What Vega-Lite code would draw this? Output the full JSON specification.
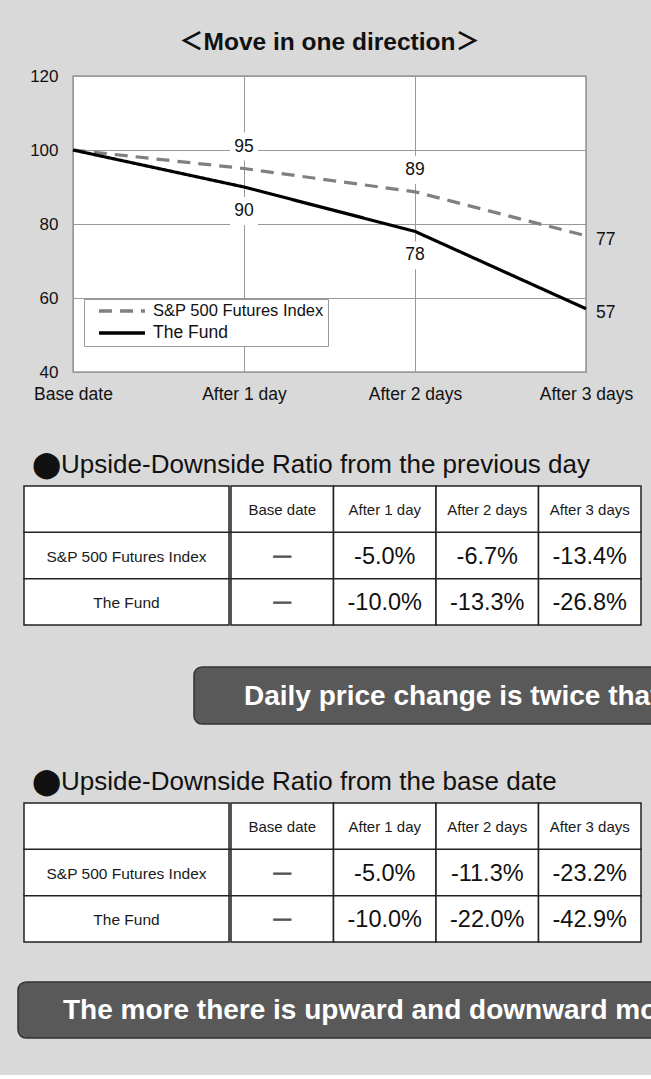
{
  "$schema": "https://vega.github.io/schema/vega-lite/v6.json",
  "background": "#d9d9d9",
  "padding": {"left": 17, "top": 28, "right": -7, "bottom": 36},
  "spacing": 38,
  "datasets": {
    "line": [
      {"day": "Base date", "series": "S&P 500 Futures Index", "index": 100},
      {"day": "After 1 day", "series": "S&P 500 Futures Index", "index": 95},
      {"day": "After 2 days", "series": "S&P 500 Futures Index", "index": 88.7},
      {"day": "After 3 days", "series": "S&P 500 Futures Index", "index": 76.8},
      {"day": "Base date", "series": "The Fund", "index": 100},
      {"day": "After 1 day", "series": "The Fund", "index": 90},
      {"day": "After 2 days", "series": "The Fund", "index": 78},
      {"day": "After 3 days", "series": "The Fund", "index": 57.1}
    ],
    "prev": [
      {"row": "S&P 500 Futures Index", "col": "Base date", "pct": null},
      {"row": "S&P 500 Futures Index", "col": "After 1 day", "pct": -0.05},
      {"row": "S&P 500 Futures Index", "col": "After 2 days", "pct": -0.067},
      {"row": "S&P 500 Futures Index", "col": "After 3 days", "pct": -0.134},
      {"row": "The Fund", "col": "Base date", "pct": null},
      {"row": "The Fund", "col": "After 1 day", "pct": -0.10},
      {"row": "The Fund", "col": "After 2 days", "pct": -0.133},
      {"row": "The Fund", "col": "After 3 days", "pct": -0.268}
    ],
    "base": [
      {"row": "S&P 500 Futures Index", "col": "Base date", "pct": null},
      {"row": "S&P 500 Futures Index", "col": "After 1 day", "pct": -0.05},
      {"row": "S&P 500 Futures Index", "col": "After 2 days", "pct": -0.113},
      {"row": "S&P 500 Futures Index", "col": "After 3 days", "pct": -0.232},
      {"row": "The Fund", "col": "Base date", "pct": null},
      {"row": "The Fund", "col": "After 1 day", "pct": -0.10},
      {"row": "The Fund", "col": "After 2 days", "pct": -0.22},
      {"row": "The Fund", "col": "After 3 days", "pct": -0.429}
    ],
    "banner1": [{"message": "Daily price change is twice that of the S&P 500 Futures Index"}],
    "banner2": [{"message": "The more there is upward and downward movement"}]
  },
  "vconcat": [
    {
      "spacing": 0,
      "hconcat": [
        {"width": 10, "height": 338, "data": {"values": []}, "mark": {"type": "point", "opacity": 0}},
        {
          "width": 513,
          "height": 296,
          "data": {"name": "line"},
          "view": {"stroke": "#999999", "strokeWidth": 1.5, "fill": "white"},
          "title": {"text": "＜Move in one direction＞", "fontSize": 24.5, "fontWeight": "bold", "font": "Liberation Sans, Noto Sans CJK JP", "color": "#111111", "offset": 12},
          "encoding": {
            "x": {
              "field": "day", "type": "ordinal",
              "sort": ["Base date", "After 1 day", "After 2 days", "After 3 days"],
              "scale": {"type": "point", "padding": 0},
              "axis": {"labelAngle": 0, "labelFontSize": 17.5, "labelPadding": 13, "labelColor": "#111111", "grid": true, "gridColor": "#999999", "gridWidth": 1, "domain": false, "ticks": false, "title": null}
            },
            "y": {
              "field": "index", "type": "quantitative",
              "scale": {"domain": [40, 120], "nice": false, "zero": false},
              "axis": {"values": [40, 60, 80, 100, 120], "labelFontSize": 17, "labelPadding": 15, "labelColor": "#111111", "grid": true, "gridColor": "#999999", "gridWidth": 1, "domain": false, "ticks": false, "title": null}
            }
          },
          "layer": [
            {
              "transform": [{"filter": "datum.series === 'S&P 500 Futures Index' && (datum.day === 'After 1 day' || datum.day === 'After 2 days')"}],
              "mark": {"type": "point", "shape": "square", "size": 784, "filled": true, "color": "white", "opacity": 1, "strokeWidth": 0, "yOffset": -22}
            },
            {
              "transform": [{"filter": "datum.series === 'The Fund' && (datum.day === 'After 1 day' || datum.day === 'After 2 days')"}],
              "mark": {"type": "point", "shape": "square", "size": 784, "filled": true, "color": "white", "opacity": 1, "strokeWidth": 0, "yOffset": 24}
            },
            {
              "mark": {"type": "line", "strokeWidth": 3.2, "strokeCap": "butt"},
              "encoding": {
                "color": {
                  "field": "series", "type": "nominal",
                  "scale": {"domain": ["S&P 500 Futures Index", "The Fund"], "range": ["#808080", "#000000"]},
                  "legend": {"orient": "none", "legendX": 66, "legendY": 223, "title": null, "symbolType": "stroke", "symbolSize": 2116, "symbolStrokeWidth": 3.5, "labelFontSize": 16.5, "labelColor": "#111111", "strokeColor": "#999999", "fillColor": "white", "padding": 4, "clipHeight": 16, "rowPadding": 4, "symbolOffset": 9, "labelOffset": 6, "labelLimit": 400,
                    "encode": {"labels": {"update": {"fontSize": {"signal": "datum.label === 'The Fund' ? 17.5 : 16.5"}}}}}
                },
                "strokeDash": {
                  "field": "series", "type": "nominal",
                  "scale": {"domain": ["S&P 500 Futures Index", "The Fund"], "range": [[13, 8], [1, 0]]},
                  "legend": {"orient": "none", "legendX": 66, "legendY": 223, "title": null, "symbolType": "stroke", "symbolSize": 2116, "symbolStrokeWidth": 3.5, "labelFontSize": 16.5, "labelColor": "#111111", "strokeColor": "#999999", "fillColor": "white", "padding": 4, "clipHeight": 16, "rowPadding": 4, "symbolOffset": 9, "labelOffset": 6, "labelLimit": 400,
                    "encode": {"labels": {"update": {"fontSize": {"signal": "datum.label === 'The Fund' ? 17.5 : 16.5"}}}}}
                }
              }
            },
            {
              "transform": [{"filter": "datum.series === 'S&P 500 Futures Index' && (datum.day === 'After 1 day' || datum.day === 'After 2 days')"}],
              "mark": {"type": "text", "fontSize": 17.5, "color": "#111111", "yOffset": -22},
              "encoding": {"text": {"field": "index", "type": "quantitative", "format": ".0f"}}
            },
            {
              "transform": [{"filter": "datum.series === 'The Fund' && (datum.day === 'After 1 day' || datum.day === 'After 2 days')"}],
              "mark": {"type": "text", "fontSize": 17.5, "color": "#111111", "yOffset": 24},
              "encoding": {"text": {"field": "index", "type": "quantitative", "format": ".0f"}}
            },
            {
              "transform": [{"filter": "datum.day === 'After 3 days'"}],
              "mark": {"type": "text", "fontSize": 17.5, "color": "#111111", "align": "left", "dx": 10, "yOffset": 4},
              "encoding": {"text": {"field": "index", "type": "quantitative", "format": ".0f"}}
            }
          ]
        }
      ]
    },
    {
      "title": {"text": "⬤Upside-Downside Ratio from the previous day", "anchor": "start", "fontSize": 26, "fontWeight": "normal", "font": "Liberation Sans, DejaVu Sans, Noto Sans CJK JP", "color": "#111111", "dx": 14, "offset": 7},
      "spacing": 0,
      "hconcat": [
        {"width": 5, "height": 142, "data": {"values": []}, "mark": {"type": "point", "opacity": 0}},
        {
          "width": 205, "height": 139,
          "data": {"name": "prev"},
          "transform": [{"filter": "datum.col === 'Base date'"}],
          "encoding": {
            "y": {"field": "row", "type": "nominal", "scale": {"domain": ["header", "S&P 500 Futures Index", "The Fund"], "paddingInner": 0, "paddingOuter": 0}, "axis": null}
          },
          "layer": [
            {"mark": {"type": "rect", "fill": "white", "stroke": "#222222", "strokeWidth": 1.5}},
            {"transform": [{"filter": "datum.row === 'The Fund'"}], "mark": {"type": "rect", "fill": "white", "stroke": "#222222", "strokeWidth": 1.5}, "encoding": {"y": {"datum": "header", "type": "nominal"}}},
            {"mark": {"type": "text", "fontSize": 15.5, "color": "#1a1a1a", "dy": 1}, "encoding": {"text": {"field": "row"}}}
          ]
        },
        {
          "width": 410, "height": 139,
          "data": {"name": "prev"},
          "encoding": {
            "x": {"field": "col", "type": "nominal", "scale": {"domain": ["Base date", "After 1 day", "After 2 days", "After 3 days"], "paddingInner": 0, "paddingOuter": 0}, "axis": null},
            "y": {"field": "row", "type": "nominal", "scale": {"domain": ["header", "S&P 500 Futures Index", "The Fund"], "paddingInner": 0, "paddingOuter": 0}, "axis": null}
          },
          "layer": [
            {"mark": {"type": "rect", "fill": "white", "stroke": "#222222", "strokeWidth": 1.5}},
            {"transform": [{"filter": "datum.row === 'The Fund'"}], "mark": {"type": "rect", "fill": "white", "stroke": "#222222", "strokeWidth": 1.5}, "encoding": {"y": {"datum": "header", "type": "nominal"}}},
            {"transform": [{"filter": "datum.row === 'The Fund'"}], "mark": {"type": "text", "fontSize": 15, "color": "#1a1a1a", "dy": 1}, "encoding": {"y": {"datum": "header", "type": "nominal"}, "text": {"field": "col"}}},
            {"transform": [{"filter": "isValid(datum.pct)"}], "mark": {"type": "text", "fontSize": 23.5, "color": "#111111", "dy": 1}, "encoding": {"text": {"field": "pct", "type": "quantitative", "format": ".1%"}}},
            {"transform": [{"filter": "!isValid(datum.pct)"}], "mark": {"type": "text", "fontSize": 17, "color": "#555555", "stroke": "#555555", "strokeWidth": 1.3, "text": "—"}}
          ]
        }
      ]
    },
    {
      "spacing": 0,
      "hconcat": [
        {"width": 175, "height": 64, "data": {"values": []}, "mark": {"type": "point", "opacity": 0}},
        {
          "width": 463, "height": 57,
          "data": {"name": "banner1"},
          "layer": [
            {"mark": {"type": "rect", "fill": "#595959", "stroke": "#333333", "strokeWidth": 1.5, "cornerRadiusTopLeft": 8, "cornerRadiusBottomLeft": 8}, "encoding": {}},
            {"mark": {"type": "text", "align": "left", "baseline": "middle", "dx": -181.5, "dy": 1, "fontSize": 28, "fontWeight": "bold", "color": "white", "clip": true}, "encoding": {"text": {"field": "message"}}}
          ]
        }
      ]
    },
    {
      "title": {"text": "⬤Upside-Downside Ratio from the base date", "anchor": "start", "fontSize": 26, "fontWeight": "normal", "font": "Liberation Sans, DejaVu Sans, Noto Sans CJK JP", "color": "#111111", "dx": 14, "offset": 7},
      "spacing": 0,
      "hconcat": [
        {"width": 5, "height": 138, "data": {"values": []}, "mark": {"type": "point", "opacity": 0}},
        {
          "width": 205, "height": 139,
          "data": {"name": "base"},
          "transform": [{"filter": "datum.col === 'Base date'"}],
          "encoding": {
            "y": {"field": "row", "type": "nominal", "scale": {"domain": ["header", "S&P 500 Futures Index", "The Fund"], "paddingInner": 0, "paddingOuter": 0}, "axis": null}
          },
          "layer": [
            {"mark": {"type": "rect", "fill": "white", "stroke": "#222222", "strokeWidth": 1.5}},
            {"transform": [{"filter": "datum.row === 'The Fund'"}], "mark": {"type": "rect", "fill": "white", "stroke": "#222222", "strokeWidth": 1.5}, "encoding": {"y": {"datum": "header", "type": "nominal"}}},
            {"mark": {"type": "text", "fontSize": 15.5, "color": "#1a1a1a", "dy": 1}, "encoding": {"text": {"field": "row"}}}
          ]
        },
        {
          "width": 410, "height": 139,
          "data": {"name": "base"},
          "encoding": {
            "x": {"field": "col", "type": "nominal", "scale": {"domain": ["Base date", "After 1 day", "After 2 days", "After 3 days"], "paddingInner": 0, "paddingOuter": 0}, "axis": null},
            "y": {"field": "row", "type": "nominal", "scale": {"domain": ["header", "S&P 500 Futures Index", "The Fund"], "paddingInner": 0, "paddingOuter": 0}, "axis": null}
          },
          "layer": [
            {"mark": {"type": "rect", "fill": "white", "stroke": "#222222", "strokeWidth": 1.5}},
            {"transform": [{"filter": "datum.row === 'The Fund'"}], "mark": {"type": "rect", "fill": "white", "stroke": "#222222", "strokeWidth": 1.5}, "encoding": {"y": {"datum": "header", "type": "nominal"}}},
            {"transform": [{"filter": "datum.row === 'The Fund'"}], "mark": {"type": "text", "fontSize": 15, "color": "#1a1a1a", "dy": 1}, "encoding": {"y": {"datum": "header", "type": "nominal"}, "text": {"field": "col"}}},
            {"transform": [{"filter": "isValid(datum.pct)"}], "mark": {"type": "text", "fontSize": 23.5, "color": "#111111", "dy": 1}, "encoding": {"text": {"field": "pct", "type": "quantitative", "format": ".1%"}}},
            {"transform": [{"filter": "!isValid(datum.pct)"}], "mark": {"type": "text", "fontSize": 17, "color": "#555555", "stroke": "#555555", "strokeWidth": 1.3, "text": "—"}}
          ]
        }
      ]
    },
    {
      "width": 638, "height": 56,
      "data": {"name": "banner2"},
      "layer": [
        {"mark": {"type": "rect", "fill": "#595959", "stroke": "#333333", "strokeWidth": 1.5, "cornerRadiusTopLeft": 8, "cornerRadiusBottomLeft": 8}, "encoding": {}},
        {"mark": {"type": "text", "align": "left", "baseline": "middle", "dx": -274, "dy": 1, "fontSize": 28, "fontWeight": "bold", "color": "white", "clip": true}, "encoding": {"text": {"field": "message"}}}
      ]
    }
  ],
  "config": {
    "view": {"stroke": null},
    "font": "Liberation Sans",
    "locale": {"number": {"decimal": ".", "thousands": ",", "grouping": [3], "currency": ["$", ""], "minus": "-"}}
  }
}
